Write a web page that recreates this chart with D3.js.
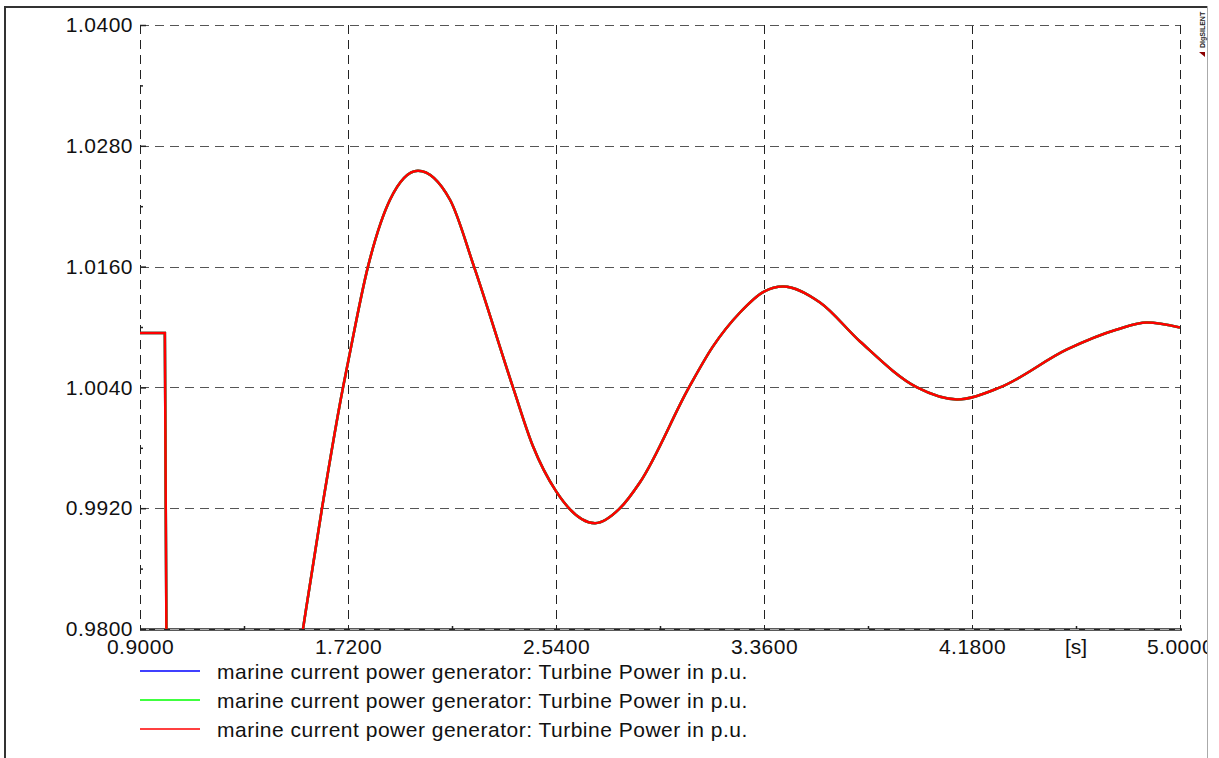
<!DOCTYPE html>
<html>
<head>
<meta charset="utf-8">
<script src="https://cdn.jsdelivr.net/npm/d3@7"></script>
<style>
  body { margin: 0; background: #fff; }
  svg { display: block; font-family: "Liberation Sans", Arial, sans-serif; }
</style>
</head>
<body>
<svg id="chart" width="1219" height="758"></svg>
<script>
// time [s] and turbine power [p.u.]
var times = [0.90, 0.998, 1.000, 1.006, 1.02, 1.40, 1.47, 1.5426, 1.6175, 1.7003, 1.72, 1.7988, 1.8856,
    1.9960, 2.1221, 2.2167, 2.3705, 2.4493, 2.54, 2.6938, 2.7923, 2.8712, 3.0643, 3.1589, 3.2654, 3.36, 3.4349,
    3.5808, 3.7385, 3.9632, 4.1209, 4.2904, 4.5545, 4.7516, 4.8699, 5.00];
var power = [1.0094, 1.0094, 1.0000, 0.9700, 0.9550, 0.9560, 0.9680, 0.9800, 0.9920, 1.0040, 1.00648, 1.0160, 1.02264,
    1.02552, 1.02264, 1.0160, 1.0040, 0.99815, 0.99369, 0.99051, 0.9920, 0.99458, 1.0040, 1.00807, 1.01144, 1.01352, 1.01402,
    1.01243, 1.00856, 1.0040, 1.00281, 1.0040, 1.00777, 1.00975, 1.01045, 1.00995];
var smoothFrom = 6; // after the step the trace is a smooth oscillation

var seriesNames = [
    "marine current power generator: Turbine Power in p.u.",
    "marine current power generator: Turbine Power in p.u.",
    "marine current power generator: Turbine Power in p.u."
];
var seriesColors = ["#0000ff", "#00ff00", "#ff0000"];

var xTicks = [0.9, 1.72, 2.54, 3.36, 4.18, 5.0];
var xMinor = [1.31, 2.13, 2.95, 3.77, 4.59];
var yTicks = [0.980, 0.992, 1.004, 1.016, 1.028, 1.040];
var yMinor = [0.986, 0.998, 1.010, 1.022, 1.034];

var svg = d3.select("#chart");
var pLeft = 140, pRight = 1180, pTop = 25, pBottom = 629;
var fontSize = 21, spacing = "0.5px";

var x = d3.scaleLinear().domain([0.9, 5.0]).range([pLeft, pRight]);
var y = d3.scaleLinear().domain([0.98, 1.04]).range([pBottom, pTop]);

// clip for whole chart window (right edge cuts the last label)
svg.append("clipPath").attr("id", "winclip").append("rect")
    .attr("x", 0).attr("y", 0).attr("width", 1207).attr("height", 758);

// outer frame
svg.append("line").attr("x1", 5).attr("y1", 7).attr("x2", 1208).attr("y2", 7)
    .attr("stroke", "#333").attr("stroke-width", 2);
svg.append("line").attr("x1", 5).attr("y1", 6).attr("x2", 5).attr("y2", 758)
    .attr("stroke", "#333").attr("stroke-width", 2);
svg.append("line").attr("x1", 1207.5).attr("y1", 6).attr("x2", 1207.5).attr("y2", 758)
    .attr("stroke", "#aaa").attr("stroke-width", 1);

// grid
var grid = svg.append("g").attr("class", "grid");
grid.selectAll(".vg").data(xTicks).enter().append("line")
    .attr("x1", function(d) { return Math.round(x(d)) + 0.5; })
    .attr("x2", function(d) { return Math.round(x(d)) + 0.5; })
    .attr("y1", pTop).attr("y2", pBottom)
    .attr("stroke", "#222").attr("stroke-dasharray", "9,6");
grid.selectAll(".hg").data(yTicks.slice(1)).enter().append("line")
    .attr("y1", function(d) { return Math.round(y(d)) + 0.5; })
    .attr("y2", function(d) { return Math.round(y(d)) + 0.5; })
    .attr("x1", pLeft).attr("x2", pRight)
    .attr("stroke", "#555").attr("stroke-dasharray", "9,6");

// bottom axis line
svg.append("line").attr("x1", pLeft).attr("x2", pRight + 2).attr("y1", pBottom + 0.5).attr("y2", pBottom + 0.5)
    .attr("stroke", "#222").attr("stroke-width", 2.5);
svg.append("line").attr("x1", pLeft).attr("x2", pRight).attr("y1", pBottom + 0.5).attr("y2", pBottom + 0.5)
    .attr("stroke", "#aaa").attr("stroke-width", 1).attr("stroke-dasharray", "9,6");

// axes
var yAxis = svg.append("g").attr("transform", "translate(" + pLeft + ",0)")
    .call(d3.axisLeft(y).tickValues(yTicks).tickSize(-6).tickPadding(7).tickFormat(d3.format(".4f")));
var yAxisMinor = svg.append("g").attr("transform", "translate(" + pLeft + ",0)")
    .call(d3.axisLeft(y).tickValues(yMinor).tickSize(-3).tickFormat(""));
var xAxis = svg.append("g").attr("transform", "translate(0," + pBottom + ")").attr("clip-path", "url(#winclip)")
    .call(d3.axisBottom(x).tickValues(xTicks).tickSize(-8).tickPadding(10).tickFormat(d3.format(".4f")));
var xAxisMinor = svg.append("g").attr("transform", "translate(0," + pBottom + ")")
    .call(d3.axisBottom(x).tickValues(xMinor).tickSize(-3).tickFormat(""));

[yAxis, yAxisMinor, xAxis, xAxisMinor].forEach(function(a) {
    a.select(".domain").remove();
    a.selectAll("line").attr("stroke", "#222").attr("stroke-width", 1.5);
    a.selectAll("text").attr("font-size", fontSize).attr("fill", "#111")
        .attr("letter-spacing", spacing)
        .attr("font-family", "'Liberation Sans', Arial, sans-serif");
});

svg.append("text").attr("x", x(4.59)).attr("y", 654).attr("text-anchor", "middle")
    .attr("font-size", fontSize).attr("fill", "#111").text("[s]");

// curves
svg.append("clipPath").attr("id", "plotclip").append("rect")
    .attr("x", pLeft).attr("y", pTop).attr("width", pRight - pLeft).attr("height", pBottom - pTop);

var pts = times.map(function(t, i) { return [t, power[i]]; });
var stepPart = pts.slice(0, smoothFrom + 1);
var smoothPart = pts.slice(smoothFrom);
var lineStep = d3.line().x(function(d) { return x(d[0]); }).y(function(d) { return y(d[1]); });
var lineSmooth = d3.line().x(function(d) { return x(d[0]); }).y(function(d) { return y(d[1]); })
    .curve(d3.curveMonotoneX);

seriesColors.forEach(function(c) {
    var g = svg.append("g").attr("clip-path", "url(#plotclip)");
    g.append("path").datum(stepPart).attr("d", lineStep)
        .attr("fill", "none").attr("stroke", c).attr("stroke-width", 2.5);
    g.append("path").datum(smoothPart).attr("d", lineSmooth)
        .attr("fill", "none").attr("stroke", c).attr("stroke-width", 2.5);
});

// legend
var legendY = [671, 700, 729];
var lg = svg.append("g");
seriesNames.forEach(function(name, i) {
    lg.append("line").attr("x1", 140).attr("x2", 200).attr("y1", legendY[i]).attr("y2", legendY[i])
        .attr("stroke", seriesColors[i]).attr("stroke-width", 1.5);
    lg.append("text").attr("x", 217).attr("y", legendY[i] + 8)
        .attr("font-size", fontSize).attr("letter-spacing", spacing).attr("fill", "#111").text(name);
});

// DIgSILENT mark
var mark = svg.append("g").attr("transform", "translate(1202,52) rotate(-90)");
mark.append("text").attr("x", 4).attr("y", 2.5).attr("font-size", 7).attr("font-weight", "bold")
    .attr("fill", "#222").text("DIgSILENT");
mark.append("path").attr("d", "M0,-3 L0,3 L-5,3 Z").attr("fill", "#8b0000");
</script>
</body>
</html>
